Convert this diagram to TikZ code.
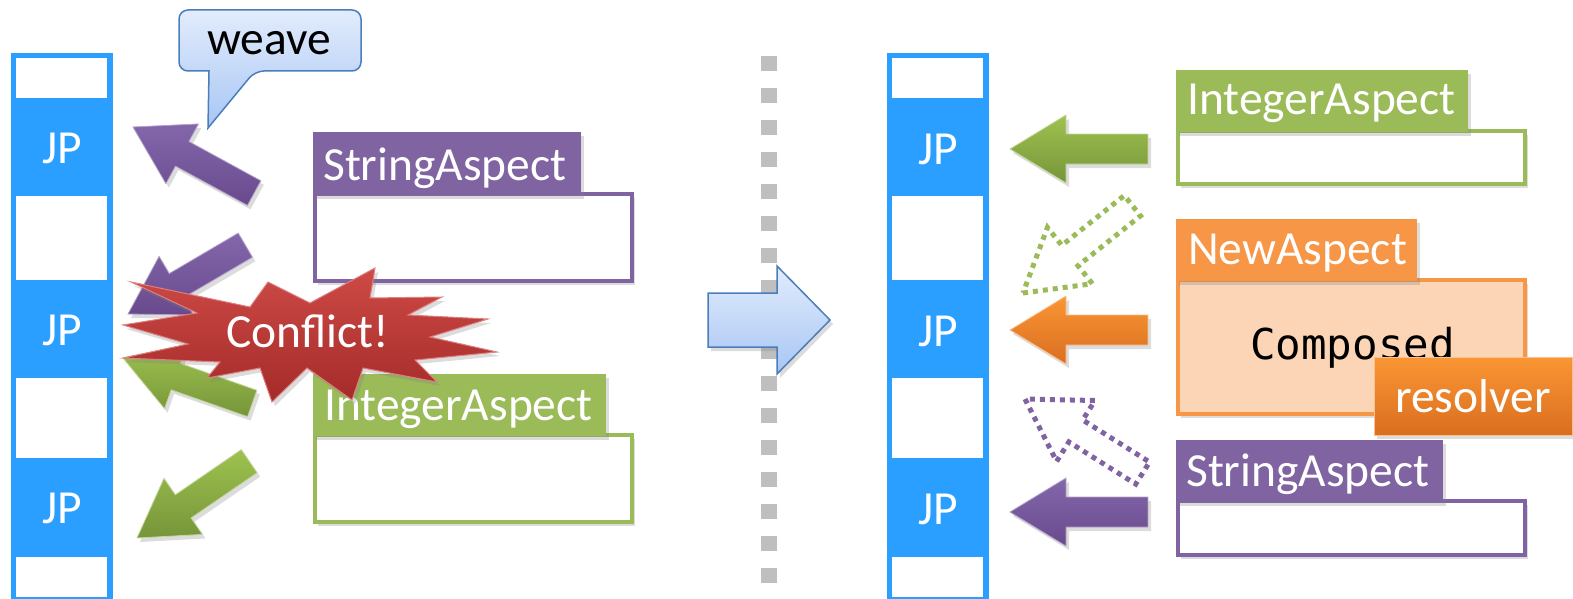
\documentclass[tikz,border=0pt]{standalone}
\usepackage{fontspec}
\setmainfont{Carlito}
\newfontfamily\monof{DejaVu Sans Mono}
\usetikzlibrary{shadows}
\definecolor{jpblue}{HTML}{2A9FFF}
\definecolor{apurple}{HTML}{8064A2}
\definecolor{apurpleL}{HTML}{8466AC}
\definecolor{apurpleD}{HTML}{684A8C}
\definecolor{agreen}{HTML}{9BBB59}
\definecolor{agreenL}{HTML}{9EC24F}
\definecolor{agreenD}{HTML}{76953A}
\definecolor{aorange}{HTML}{F79646}
\definecolor{aorangeL}{HTML}{FA9634}
\definecolor{aorangeD}{HTML}{DA6E20}
\definecolor{peach}{HTML}{FBD5B5}
\definecolor{dotgray}{HTML}{BFBFBF}
\definecolor{cblueL}{HTML}{E2ECFC}
\definecolor{cblueD}{HTML}{A8C6F4}
\definecolor{cborder}{HTML}{4A7EBB}
\definecolor{redL}{HTML}{CE4A46}
\definecolor{redD}{HTML}{A42B29}
\newcommand\bigtxt{\fontsize{47.5}{56}\selectfont}
\newcommand\blkarrow[8]{%
  \begin{scope}[shift={(#1,#2)},rotate=#3]
  \path[#8] (0,0) -- (#4,#5) -- (#4,#6) -- (#7,#6) -- (#7,-#6) -- (#4,-#6) -- (#4,-#5) -- cycle;
  \end{scope}}
\tikzset{
  shad/.style={drop shadow={opacity=0.28,shadow xshift=3pt,shadow yshift=-4pt}},
  parrow/.style={shad,top color=apurpleL,bottom color=apurpleD,draw=apurple!60!white,line width=0.8pt},
  garrow/.style={shad,top color=agreenL,bottom color=agreenD,draw=agreen!60!white,line width=0.8pt},
  oarrow/.style={shad,top color=aorangeL,bottom color=aorangeD,draw=aorange!60!white,line width=0.8pt},
  gdots/.style={draw=agreen,line width=5pt,dash pattern=on 5pt off 5pt},
  pdots/.style={draw=apurple,line width=5pt,dash pattern=on 5pt off 5pt},
  lbl/.style={inner sep=0pt,text=white,font=\bigtxt},
  tabtxt/.style={lbl,anchor=base west},
  jplbl/.style={lbl,anchor=base},
  body/.style={shad,line width=4pt},
}
\begin{document}
\begin{tikzpicture}[x=1pt,y=-1pt]
\useasboundingbox (0,0) rectangle (1573,599);
% ---------- join point columns ----------
\foreach \dx/\n in {0/a,876/b}{
  \fill[jpblue] (11+\dx,53) rectangle (113+\dx,600);
  \fill[white] (16+\dx,58) rectangle (107+\dx,98);
  \fill[white] (16+\dx,196) rectangle (107+\dx,280);
  \fill[white] (16+\dx,378) rectangle (107+\dx,458);
  \fill[white] (16+\dx,557) rectangle (107+\dx,597);
}
\node[jplbl] (jp1) at (62,163) {JP};
\node[jplbl] (jp2) at (62,345) {JP};
\node[jplbl] (jp3) at (62,523) {JP};
\node[jplbl] (jp4) at (938,164) {JP};
\node[jplbl] (jp5) at (938,346) {JP};
\node[jplbl] (jp6) at (938,524) {JP};
% ---------- dotted separator ----------
\foreach \k in {0,...,16}{
  \fill[dotgray] (761,56+32*\k) rectangle (777,71+32*\k);
}
% ---------- weave callout ----------
\path[top color=cblueL,bottom color=cblueD,draw=cborder,line width=1.5pt]
  [rounded corners=9pt] (179,40) |- (361,10) |- (255,71)
  [sharp corners] -- (208,128) -- (209,71)
  [rounded corners=9pt] -| (179,40) -- cycle;
\node[inner sep=0pt,font=\bigtxt,anchor=base] (weave) at (269,55) {weave};
% ---------- left arrows ----------
\blkarrow{133}{127}{-28.6}{56}{34}{14}{138}{parrow}
\blkarrow{128}{314}{30.4}{56}{34}{14}{136}{parrow}
\blkarrow{123}{358}{-19.4}{56}{34}{14}{137}{garrow}
\blkarrow{137}{538}{34.4}{56}{34}{14}{136}{garrow}
% ---------- left aspect boxes ----------
\draw[body,apurple,fill=white] (315,194) rectangle (632,281);
\fill[shad,apurple] (313,132) rectangle (581,195);
\node[tabtxt] (sa1) at (323,180) {StringAspect};
\draw[body,agreen,fill=white] (315,435) rectangle (632,522);
\fill[shad,agreen] (313,374) rectangle (606,436);
\node[tabtxt] (ia1) at (324,420) {IntegerAspect};
% ---------- conflict star ----------
\path[shad,top color=redL,bottom color=redD,draw=redL!70!white,line width=1pt]
  (131,282) -- (250,307) -- (268,282) -- (310,303) -- (375,268) -- (370,298)
  -- (442,297) -- (408,315) -- (488,319) -- (430,337) -- (497,352) -- (415,360)
  -- (437,382) -- (363,368) -- (352,400) -- (307,368) -- (272,402) -- (260,368)
  -- (207,378) -- (220,362) -- (123,358) -- (188,344) -- (123,325) -- (197,313) -- cycle;
\node[lbl,anchor=base] (conflict) at (307.5,347) {Conflict!};
% ---------- big transition arrow ----------
\path[shad,top color=cblueL,bottom color=cblueD,draw=cborder,line width=1.5pt]
  (708,293) -- (777,293) -- (777,266) -- (830,320) -- (777,374) -- (777,347) -- (708,347) -- cycle;
% ---------- right arrows ----------
\blkarrow{1010}{149}{0}{56}{34}{15}{138}{garrow}
\blkarrow{1010}{330}{0}{56}{34}{15}{138}{oarrow}
\blkarrow{1010}{512}{0}{56}{34}{15}{138}{parrow}
\blkarrow{1023}{293}{38.6}{60}{36}{13}{140}{gdots}
\blkarrow{1025}{399}{-32.2}{60}{36}{13}{139}{pdots}
% ---------- right aspect boxes ----------
\draw[body,agreen,fill=white] (1178,131) rectangle (1525,184);
\fill[shad,agreen] (1176,70) rectangle (1468,132);
\node[tabtxt] (ia2) at (1187,115) {IntegerAspect};
\draw[body,aorange,fill=peach] (1178,280) rectangle (1525,414);
\fill[shad,aorange] (1176,219) rectangle (1417,281);
\node[tabtxt] (na) at (1188,264) {NewAspect};
\node[inner sep=0pt,anchor=base west,font=\monof\fontsize{42.5}{48}\selectfont] (composed) at (1250,359) {Composed};
\path[shad,top color=aorangeL,bottom color=aorangeD,draw=aorange!60!white,line width=1pt]
  (1374,357) rectangle (1572,435);
\node[lbl,anchor=base] (resolver) at (1473,412) {resolver};
\draw[body,apurple,fill=white] (1178,501) rectangle (1525,555);
\fill[shad,apurple] (1176,440) rectangle (1443,502);
\node[tabtxt] (sa2) at (1186,486) {StringAspect};
\end{tikzpicture}
\end{document}
